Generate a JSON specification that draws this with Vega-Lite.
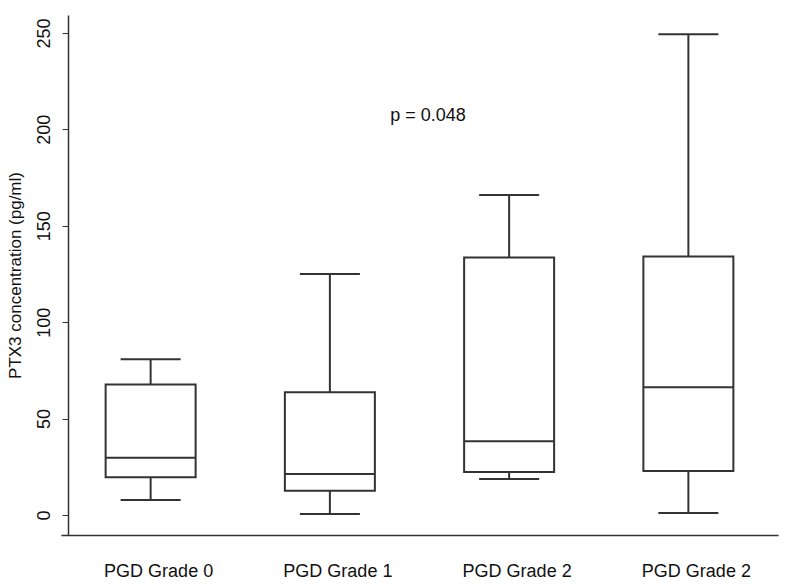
{
  "$schema": "https://vega.github.io/schema/vega-lite/v6.json",
  "autosize": "none",
  "width": 717,
  "height": 520,
  "padding": {"left": 61, "top": 15, "right": 22, "bottom": 50},
  "background": "white",
  "config": {"view": {"stroke": null}, "font": "Liberation Sans"},
  "data": {"values": [
    {"id": "g0", "label": "PGD Grade 0", "lower": 7.8, "q1": 19.5, "median": 29.7, "q3": 67.6, "upper": 80.8},
    {"id": "g1", "label": "PGD Grade 1", "lower": 0.5, "q1": 12.6, "median": 21.3, "q3": 63.6, "upper": 125},
    {"id": "g2a", "label": "PGD Grade 2", "lower": 18.7, "q1": 22.3, "median": 38.2, "q3": 133.5, "upper": 166},
    {"id": "g2b", "label": "PGD Grade 2", "lower": 1.0, "q1": 22.8, "median": 66.2, "q3": 134, "upper": 249.3}
  ]},
  "encoding": {
    "x": {"field": "id", "type": "nominal", "sort": ["g0", "g1", "g2a", "g2b"],
      "scale": {"paddingInner": 0, "paddingOuter": 0},
      "axis": {"title": null, "labelAngle": 0, "ticks": false, "labelPadding": 27, "labelFontSize": 18, "labelColor": "#111", "labelOffset": 8,
        "domainColor": "#333", "domainWidth": 1.5,
        "labelExpr": "datum.value == 'g0' ? 'PGD Grade 0' : datum.value == 'g1' ? 'PGD Grade 1' : 'PGD Grade 2'"}}
  },
  "layer": [
    {"mark": {"type": "rule", "color": "#333", "strokeWidth": 2},
     "encoding": {"y": {"field": "lower", "type": "quantitative",
        "scale": {"domain": [-10.4, 259.3], "nice": false, "zero": false},
        "axis": {"title": "PTX3 concentration (pg/ml)", "values": [0, 50, 100, 150, 200, 250], "labelAngle": -90, "labelAlign": "center", "labelBaseline": "bottom",
          "labelFontSize": 18, "labelColor": "#111", "titleFontSize": 17, "titleFontWeight": "normal", "titleColor": "#111", "titlePadding": 11,
          "grid": false, "tickColor": "#333", "tickSize": 6, "domainColor": "#333", "domainWidth": 1.5, "offset": -7, "labelPadding": 9}},
        "y2": {"field": "q1"}}},
    {"mark": {"type": "rule", "color": "#333", "strokeWidth": 2},
     "encoding": {"y": {"field": "q3", "type": "quantitative"}, "y2": {"field": "upper"}}},
    {"mark": {"type": "bar", "fill": "white", "stroke": "#333", "strokeWidth": 2, "width": 90},
     "encoding": {"y": {"field": "q1", "type": "quantitative"}, "y2": {"field": "q3"}}},
    {"mark": {"type": "tick", "color": "#333", "thickness": 2, "size": 90, "opacity": 1},
     "encoding": {"y": {"field": "median", "type": "quantitative"}}},
    {"mark": {"type": "tick", "color": "#333", "thickness": 2, "size": 60, "opacity": 1},
     "encoding": {"y": {"field": "lower", "type": "quantitative"}}},
    {"mark": {"type": "tick", "color": "#333", "thickness": 2, "size": 60, "opacity": 1},
     "encoding": {"y": {"field": "upper", "type": "quantitative"}}},
    {"data": {"values": [{"id": "g2a", "y": 207, "text": "p = 0.048"}]},
     "mark": {"type": "text", "fontSize": 18, "color": "#111", "align": "center", "baseline": "middle"},
     "encoding": {"x": {"field": "id", "type": "nominal", "bandPosition": 0.047}, "y": {"field": "y", "type": "quantitative"}, "text": {"field": "text"}}}
  ]
}
